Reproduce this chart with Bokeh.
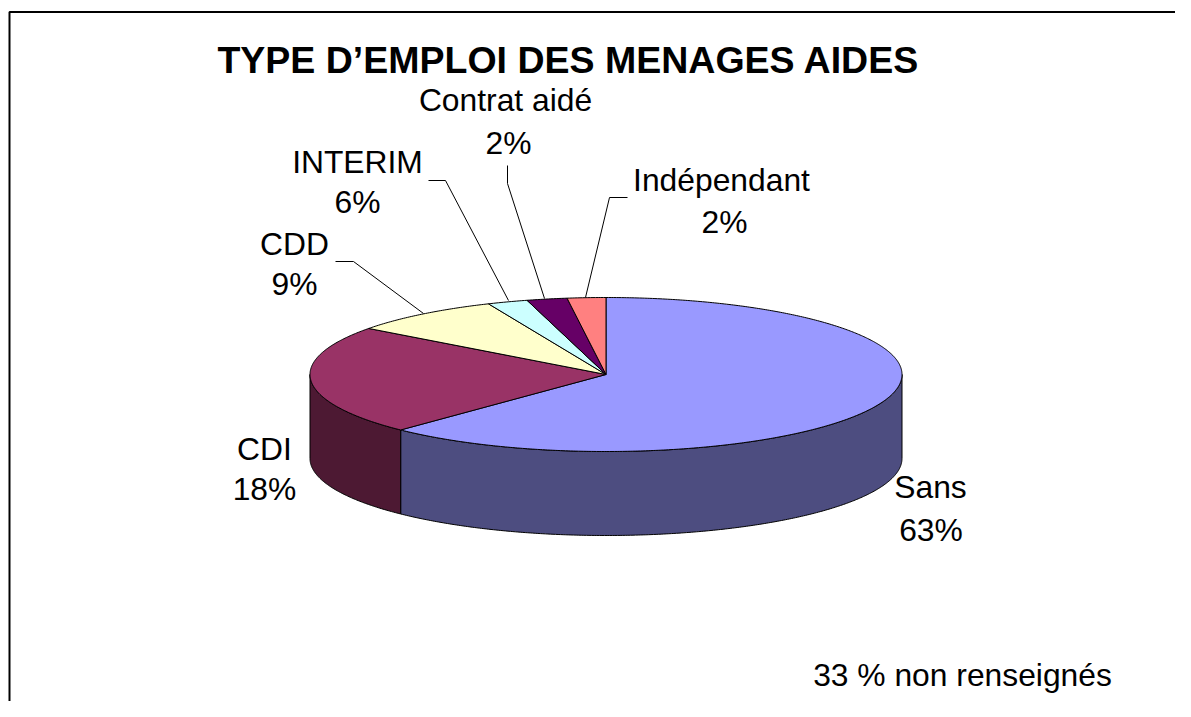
import math
from bokeh.plotting import figure
from bokeh.models import Range1d
from bokeh.core.properties import value
from bokeh.embed import file_html
from bokeh.resources import INLINE

# Printed labels
categories = ["Sans", "CDI", "CDD", "INTERIM", "Contrat aidé", "Indépendant"]
printed_pct = ["63%", "18%", "9%", "6%", "2%", "2%"]
# Slice sizes as actually drawn in the picture (they differ from the printed labels)
drawn_share = [62.2, 23.0, 8.3, 2.2, 2.2, 2.1]
top_colors = ["#9999FF", "#993366", "#FFFFCC", "#CCFFFF", "#660066", "#FF8080"]
side_colors = ["#4D4D80", "#4D1933", "#808066", "#668080", "#330033", "#804040"]
title_text = "TYPE D’EMPLOI DES MENAGES AIDES"
note_text = "33 % non renseignés"

# Label anchors in reference pixels: (name x, name y, percent x, percent y)
label_pos = {
    "Sans": (930, 486, 930.5, 529),
    "CDI": (264, 448, 264, 488),
    "CDD": (294, 243, 294, 283),
    "INTERIM": (357, 161, 357, 201),
    "Contrat aidé": (505, 99, 508, 142),
    "Indépendant": (721, 179, 724, 221),
}
leaders = {
    "CDD": ([335, 353, 423], [261, 261, 313]),
    "INTERIM": ([428, 445, 508], [180, 180, 300]),
    "Contrat aidé": ([507, 507, 544], [165, 183, 298]),
    "Indépendant": ([627, 609, 585], [197, 197, 297]),
}

# Fits the 1191x717 window inside the page's 8px margin
W, H = 1175, 701
CX, CY, RX, RY, DEPTH = 605.5, 374, 296, 77, 84


def pt(deg, dy=0):
    a = math.radians(deg)
    return CX + RX * math.sin(a), CY - RY * math.cos(a) + dy


def arc(a0, a1, dy=0):
    n = max(2, int(abs(a1 - a0)) * 2 + 2)
    return [pt(a0 + (a1 - a0) * i / (n - 1), dy) for i in range(n)]


p = figure(width=W, height=H, output_backend="svg", toolbar_location=None,
           x_range=Range1d(0, W), y_range=Range1d(H, 0),
           min_border=0, outline_line_color=None)
p.axis.visible = False
p.grid.visible = False
p.background_fill_color = "white"
p.border_fill_color = "white"

# Frame (runs off the picture on right and bottom)
p.line([W, 9, 9], [11.5, 11.5, H], line_color="black", line_width=2)

# Slices
edges = [0.0]
for s in drawn_share:
    edges.append(edges[-1] + s * 360 / sum(drawn_share))

# Side walls: only the front half of the ellipse shows
for i, (a0, a1) in enumerate(zip(edges[:-1], edges[1:])):
    b0, b1 = max(a0, 90), min(a1, 270)
    if b0 >= b1:
        continue
    pts = arc(b0, b1) + arc(b1, b0, DEPTH)
    p.patch([q[0] for q in pts], [q[1] for q in pts], fill_color=side_colors[i],
            line_color="black", line_width=1)

# Top faces
for i, (a0, a1) in enumerate(zip(edges[:-1], edges[1:])):
    pts = [(CX, CY)] + arc(a0, a1)
    p.patch([q[0] for q in pts], [q[1] for q in pts], fill_color=top_colors[i],
            line_color="black", line_width=1)

# Leader lines
for c, (xs, ys) in leaders.items():
    p.line(xs, ys, line_color="black", line_width=1)

FONT = value("Liberation Sans")


def txt(x, y, s, size, style="normal"):
    p.text([x], [y], text=[s], text_font=FONT, text_font_size=size, text_font_style=style,
           text_align="center", text_baseline="middle", text_color="black")


txt(568, 59, title_text, "37.5px", "bold")
for c, pct in zip(categories, printed_pct):
    x1, y1, x2, y2 = label_pos[c]
    txt(x1, y1, c, "31.8px")
    txt(x2, y2, pct, "31.8px")
txt(962, 674, note_text, "31.8px")

open("out.html", "w").write(file_html(p, INLINE))
